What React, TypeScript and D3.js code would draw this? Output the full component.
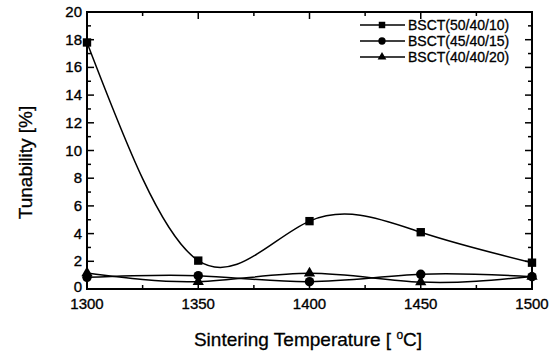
import * as d3 from "d3";
import React, { useRef, useEffect } from "react";

const temps = [1300, 1350, 1400, 1450, 1500];
const bsct50 = [17.8, 2.05, 4.9, 4.1, 1.9];
const bsct45 = [0.84, 0.96, 0.53, 1.06, 0.89];
const bsct40 = [1.15, 0.53, 1.13, 0.5, 0.9];
const seriesNames = ["BSCT(50/40/10)", "BSCT(45/40/15)", "BSCT(40/40/20)"];
const xTicks = [1300, 1350, 1400, 1450, 1500];
const yTicks = [0, 2, 4, 6, 8, 10, 12, 14, 16, 18, 20];

const W = 553;
const H = 353;
const margin = { left: 87, right: 21, top: 12, bottom: 64 };

const App = () => {
  const ref = useRef(null);

  useEffect(() => {
    const svg = d3.select(ref.current);
    svg.selectAll("*").remove();

    const x = d3.scaleLinear().domain([1300, 1500]).range([margin.left, W - margin.right]);
    const y = d3.scaleLinear().domain([0, 20]).range([H - margin.bottom, margin.top]);
    const font = "Liberation Sans, Arial, sans-serif";

    const g = svg.append("g");

    // ticks, inward on all four sides
    d3.range(1300, 1501, 25).forEach((t) => {
      const major = t % 50 === 0;
      g.append("line")
        .attr("x1", x(t)).attr("x2", x(t))
        .attr("y1", y(0)).attr("y2", y(0) - (major ? 7 : 4))
        .attr("stroke", "#000").attr("stroke-width", 1.5);
      g.append("line")
        .attr("x1", x(t)).attr("x2", x(t))
        .attr("y1", y(20)).attr("y2", y(20) + (major ? 7 : 4))
        .attr("stroke", "#000").attr("stroke-width", 1.5);
    });
    d3.range(0, 21, 1).forEach((t) => {
      const major = t % 2 === 0;
      g.append("line")
        .attr("x1", x(1300)).attr("x2", x(1300) + (major ? 7 : 4))
        .attr("y1", y(t)).attr("y2", y(t))
        .attr("stroke", "#000").attr("stroke-width", 1.5);
      g.append("line")
        .attr("x1", x(1500)).attr("x2", x(1500) - (major ? 7 : 4))
        .attr("y1", y(t)).attr("y2", y(t))
        .attr("stroke", "#000").attr("stroke-width", 1.5);
    });

    g.append("rect")
      .attr("x", x(1300)).attr("y", y(20))
      .attr("width", x(1500) - x(1300)).attr("height", y(0) - y(20))
      .attr("fill", "none").attr("stroke", "#000").attr("stroke-width", 2);

    g.selectAll(".xt").data(xTicks).join("text")
      .attr("x", (d) => x(d)).attr("y", y(0) + 20)
      .attr("text-anchor", "middle")
      .attr("font-family", font).attr("font-size", 15)
      .attr("stroke", "#000").attr("stroke-width", 0.35)
      .text((d) => d);

    g.selectAll(".yt").data(yTicks).join("text")
      .attr("x", x(1300) - 5).attr("y", (d) => y(d) + (d === 0 ? 3 : 5))
      .attr("text-anchor", "end")
      .attr("font-family", font).attr("font-size", 15)
      .attr("stroke", "#000").attr("stroke-width", 0.35)
      .text((d) => d);

    const xl = g.append("text")
      .attr("x", 308).attr("y", 346)
      .attr("text-anchor", "middle")
      .attr("font-family", font).attr("font-size", 19)
      .attr("stroke", "#000").attr("stroke-width", 0.3);
    xl.append("tspan").text("Sintering Temperature [ ");
    xl.append("tspan").attr("dy", -7).attr("font-size", 12).text("o");
    xl.append("tspan").attr("dy", 7).text("C]");

    g.append("text")
      .attr("transform", `translate(32,${(y(0) + y(20)) / 2 + 12}) rotate(-90)`)
      .attr("text-anchor", "middle")
      .attr("font-family", font).attr("font-size", 19)
      .attr("stroke", "#000").attr("stroke-width", 0.3)
      .text("Tunability [%]");

    const line = d3.line<number>()
      .x((_, i) => x(temps[i]))
      .y((d) => y(d))
      .curve(d3.curveNatural);

    const all = [bsct50, bsct45, bsct40];
    const symbols = [d3.symbolSquare, d3.symbolCircle, d3.symbolTriangle];
    const sizes = [70, 70, 55];

    all.forEach((vals, k) => {
      g.append("path")
        .attr("d", line(vals))
        .attr("fill", "none").attr("stroke", "#000").attr("stroke-width", 1.5);
      g.selectAll(`.m${k}`).data(vals).join("path")
        .attr("transform", (d, i) => `translate(${x(temps[i])},${y(d)})`)
        .attr("d", d3.symbol(symbols[k], sizes[k]))
        .attr("fill", "#000");
    });

    // legend
    seriesNames.forEach((name, k) => {
      const ly = 25 + k * 16;
      g.append("line")
        .attr("x1", 360).attr("x2", 405).attr("y1", ly).attr("y2", ly)
        .attr("stroke", "#000").attr("stroke-width", 1.5);
      g.append("path")
        .attr("transform", `translate(382,${ly})`)
        .attr("d", d3.symbol(symbols[k], sizes[k] * 0.6))
        .attr("fill", "#000");
      g.append("text")
        .attr("x", 408).attr("y", ly + 5)
        .attr("font-family", font).attr("font-size", 14)
        .attr("stroke", "#000").attr("stroke-width", 0.3)
        .text(name);
    });
  }, []);

  return (
    <svg ref={ref} width={W} height={H} style={{ position: "absolute", left: 0, top: 0 }}></svg>
  );
};

export default App;
